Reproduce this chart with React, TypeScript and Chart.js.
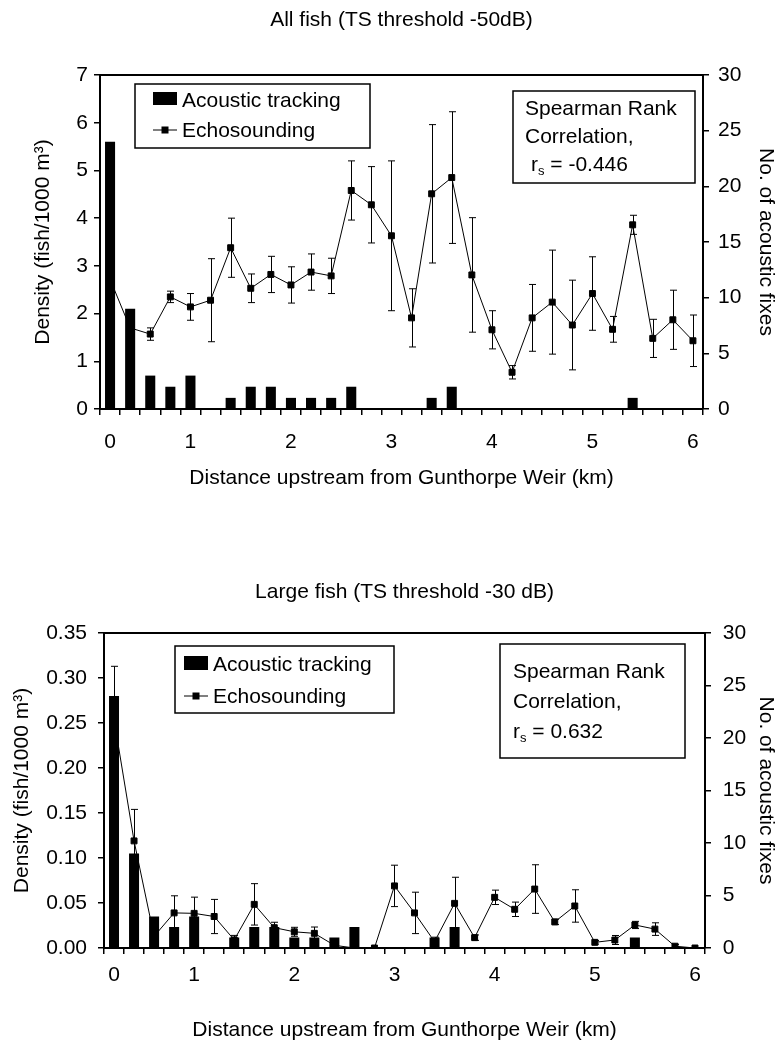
import React, { useEffect, useRef } from 'react';
import { Chart, registerables } from 'chart.js';

Chart.register(...registerables);

// ---------------- data ----------------
const distanceKm = ['0.2', '0.4', '0.6', '0.8', '1.0', '1.2', '1.4', '1.6', '1.8', '2.0', '2.2', '2.4', '2.6', '2.8', '3.0', '3.2', '3.4', '3.6', '3.8', '4.0', '4.2', '4.4', '4.6', '4.8', '5.0', '5.2', '5.4', '5.6', '5.8', '6.0'];
const xTickIndex = [0, 4, 9, 14, 19, 24, 29];
const xTickText = ['0', '1', '2', '3', '4', '5', '6'];

const acousticFixes = [24, 9, 3, 2, 3, 0, 1, 2, 2, 1, 1, 1, 2, 0, 0, 0, 1, 2, 0, 0, 0, 0, 0, 0, 0, 0, 1, 0, 0, 0];

const allFishDensity = [2.72, 1.7, 1.57, 2.35, 2.14, 2.28, 3.38, 2.53, 2.82, 2.6, 2.87, 2.79, 4.58, 4.28, 3.63, 1.91, 4.51, 4.85, 2.81, 1.66, 0.77, 1.91, 2.24, 1.76, 2.42, 1.67, 3.86, 1.48, 1.87, 1.43];
const allFishSE = [0.3, 0.2, 0.13, 0.12, 0.28, 0.87, 0.62, 0.3, 0.38, 0.38, 0.38, 0.37, 0.62, 0.8, 1.57, 0.61, 1.45, 1.38, 1.2, 0.4, 0.14, 0.7, 1.09, 0.94, 0.77, 0.27, 0.2, 0.4, 0.62, 0.54];

const largeFishDensity = [0.254, 0.119, 0.013, 0.039, 0.0385, 0.035, 0.009, 0.0485, 0.0226, 0.018, 0.0163, 0.003, 0.0, 0.0, 0.069, 0.039, 0.007, 0.0496, 0.0115, 0.0563, 0.043, 0.0655, 0.029, 0.0467, 0.0063, 0.0089, 0.0256, 0.021, 0.002, 0.0];
const largeFishSE = [0.059, 0.035, 0.01, 0.019, 0.018, 0.019, 0.005, 0.023, 0.006, 0.005, 0.007, 0.002, 0.0, 0.0, 0.023, 0.023, 0.005, 0.029, 0.003, 0.008, 0.008, 0.027, 0.003, 0.018, 0.002, 0.005, 0.004, 0.007, 0.002, 0.0];

const allFishStat = '-0.446';
const largeFishStat = '0.632';

// ---------------- styling ----------------
const FAMILY = '"Liberation Sans", Arial, Helvetica, sans-serif';
const FS = 21;
Chart.defaults.font.family = FAMILY;
Chart.defaults.font.size = FS;
Chart.defaults.color = '#000';

type Box = { x: number; y: number; w: number; h: number };

interface Params {
  title: string;
  titlePad: { top: number; bottom: number };
  density: number[];
  se: number[];
  yMax: number;
  yStep: number;
  yDecimals: number;
  leftWidth: number;
  rightWidth: number;
  xHeight: number;
  xTickPad: number;
  xTitleBottom: number;
  yTickPad: number;
  yTitleTop: number;
  y2TickPad: number;
  y2TitleTop: number;
  legend: Box & { sw: { x: number; y: number; w: number; h: number }; textX: number; row1: number; row2: number };
  stats: Box & { textX: number; rows: number[]; rsX: number; value: string };
}

function errorBarPlugin(errors: number[]) {
  return {
    id: 'errorBars',
    beforeDatasetsDraw(chart: any) {
      const meta = chart.getDatasetMeta(1);
      const ds = chart.data.datasets[1];
      const ys = chart.scales.y;
      const { ctx, chartArea } = chart;
      ctx.save();
      ctx.beginPath();
      ctx.rect(chartArea.left, chartArea.top, chartArea.right - chartArea.left, chartArea.bottom - chartArea.top);
      ctx.clip();
      ctx.strokeStyle = '#000';
      ctx.lineWidth = 1;
      meta.data.forEach((el: any, i: number) => {
        const e = errors[i];
        if (!e) return;
        const v = ds.data[i] as number;
        const top = ys.getPixelForValue(v + e);
        const bot = ys.getPixelForValue(v - e);
        const x = Math.round(el.x) + 0.5;
        ctx.beginPath();
        ctx.moveTo(x, top);
        ctx.lineTo(x, bot);
        ctx.moveTo(x - 3.5, top);
        ctx.lineTo(x + 3.5, top);
        ctx.moveTo(x - 3.5, bot);
        ctx.lineTo(x + 3.5, bot);
        ctx.stroke();
      });
      ctx.restore();
    },
  };
}

function overlayPlugin(p: Params) {
  return {
    id: 'overlay',
    afterDraw(chart: any) {
      const { ctx, chartArea: a } = chart;
      ctx.save();
      // frame
      ctx.strokeStyle = '#000';
      ctx.lineWidth = 2;
      ctx.beginPath();
      ctx.moveTo(a.left, a.top);
      ctx.lineTo(a.right, a.top);
      ctx.stroke();

      ctx.font = `${FS}px ${FAMILY}`;
      ctx.textBaseline = 'middle';
      ctx.textAlign = 'left';
      ctx.fillStyle = '#000';

      // legend
      const L = p.legend;
      const lx = a.left + L.x;
      const ly = a.top + L.y;
      ctx.fillStyle = '#fff';
      ctx.fillRect(lx, ly, L.w, L.h);
      ctx.lineWidth = 1.5;
      ctx.strokeRect(lx, ly, L.w, L.h);
      ctx.fillStyle = '#000';
      ctx.fillRect(lx + L.sw.x, ly + L.sw.y, L.sw.w, L.sw.h);
      ctx.fillText(chart.data.datasets[0].label, lx + L.textX, ly + L.row1);
      ctx.lineWidth = 1;
      ctx.beginPath();
      ctx.moveTo(lx + L.sw.x, ly + L.row2);
      ctx.lineTo(lx + L.sw.x + L.sw.w, ly + L.row2);
      ctx.stroke();
      const mx = lx + L.sw.x + L.sw.w / 2;
      ctx.fillRect(mx - 3.5, ly + L.row2 - 3.5, 7, 7);
      ctx.fillText(chart.data.datasets[1].label, lx + L.textX, ly + L.row2 + 1);

      // stats box
      const S = p.stats;
      const sx = a.left + S.x;
      const sy = a.top + S.y;
      ctx.fillStyle = '#fff';
      ctx.fillRect(sx, sy, S.w, S.h);
      ctx.lineWidth = 1.5;
      ctx.strokeRect(sx, sy, S.w, S.h);
      ctx.fillStyle = '#000';
      ctx.fillText('Spearman Rank', sx + S.textX, sy + S.rows[0]);
      ctx.fillText('Correlation,', sx + S.textX, sy + S.rows[1]);
      const r3 = sy + S.rows[2];
      let cx = sx + S.rsX;
      ctx.fillText('r', cx, r3);
      cx += ctx.measureText('r').width;
      ctx.font = `${Math.round(FS * 0.62)}px ${FAMILY}`;
      ctx.fillText('s', cx, r3 + 6);
      cx += ctx.measureText('s').width;
      ctx.font = `${FS}px ${FAMILY}`;
      ctx.fillText(' = ' + S.value, cx, r3);
      ctx.restore();
    },
  };
}

function buildConfig(p: Params): any {
  const tickFont = { size: FS };
  return {
    type: 'bar',
    data: {
      labels: distanceKm,
      datasets: [
        {
          type: 'bar',
          label: 'Acoustic tracking',
          data: acousticFixes,
          yAxisID: 'y2',
          backgroundColor: '#000',
          borderWidth: 0,
          barPercentage: 0.5,
          categoryPercentage: 1.0,
          order: 0,
        },
        {
          type: 'line',
          label: 'Echosounding',
          data: p.density,
          yAxisID: 'y',
          borderColor: '#000',
          borderWidth: 1,
          pointStyle: 'rect',
          pointRadius: 4.2,
          pointBackgroundColor: '#000',
          pointBorderColor: '#000',
          pointBorderWidth: 1,
          tension: 0,
          fill: false,
          order: 1,
        },
      ],
    },
    options: {
      responsive: false,
      animation: false,
      events: [],
      layout: { padding: 0 },
      plugins: {
        legend: { display: false },
        tooltip: { enabled: false },
        title: {
          display: true,
          text: p.title,
          fullSize: false,
          color: '#000',
          font: { size: FS, weight: 'normal', lineHeight: 1.2 },
          padding: p.titlePad,
        },
      },
      scales: {
        x: {
          type: 'category',
          offset: true,
          grid: { offset: true, drawOnChartArea: false, drawTicks: true, tickLength: 6, color: '#000', lineWidth: 1.5 },
          border: { display: true, color: '#000', width: 2 },
          ticks: {
            autoSkip: false,
            maxRotation: 0,
            minRotation: 0,
            padding: p.xTickPad,
            font: tickFont,
            color: '#000',
            callback: (_v: any, idx: number) => {
              const k = xTickIndex.indexOf(idx);
              return k >= 0 ? xTickText[k] : '';
            },
          },
          title: {
            display: true,
            text: 'Distance upstream from Gunthorpe Weir (km)',
            color: '#000',
            font: { size: FS, lineHeight: 1.2 },
            padding: { top: 0, bottom: p.xTitleBottom },
          },
          afterFit: (s: any) => {
            s.height = p.xHeight;
          },
        },
        y: {
          type: 'linear',
          position: 'left',
          min: 0,
          max: p.yMax,
          grid: { drawOnChartArea: false, drawTicks: true, tickLength: 6, color: '#000', lineWidth: 1.5 },
          border: { display: true, color: '#000', width: 2 },
          ticks: {
            stepSize: p.yStep,
            padding: p.yTickPad,
            font: tickFont,
            color: '#000',
            callback: (v: number) => v.toFixed(p.yDecimals),
          },
          title: {
            display: true,
            text: 'Density (fish/1000 m³)',
            color: '#000',
            font: { size: FS, lineHeight: 1.2 },
            padding: { top: p.yTitleTop, bottom: 0 },
          },
          afterFit: (s: any) => {
            s.width = p.leftWidth;
          },
        },
        y2: {
          type: 'linear',
          position: 'right',
          min: 0,
          max: 30,
          grid: { drawOnChartArea: false, drawTicks: true, tickLength: 6, color: '#000', lineWidth: 1.5 },
          border: { display: true, color: '#000', width: 2 },
          ticks: { stepSize: 5, padding: p.y2TickPad, font: tickFont, color: '#000' },
          title: {
            display: true,
            text: 'No. of acoustic fixes',
            color: '#000',
            font: { size: FS, lineHeight: 1.2 },
            padding: { top: p.y2TitleTop, bottom: 0 },
          },
          afterFit: (s: any) => {
            s.width = p.rightWidth;
          },
        },
      },
    },
    plugins: [errorBarPlugin(p.se), overlayPlugin(p)],
  };
}

const topParams: Params = {
  title: 'All fish (TS threshold -50dB)',
  titlePad: { top: 8, bottom: 41.8 },
  density: allFishDensity,
  se: allFishSE,
  yMax: 7,
  yStep: 1,
  yDecimals: 0,
  leftWidth: 100,
  rightWidth: 76,
  xHeight: 116,
  xTickPad: 14.4,
  xTitleBottom: 34.4,
  yTickPad: 6,
  yTitleTop: 31,
  y2TickPad: 9,
  y2TitleTop: 1,
  legend: { x: 35, y: 9, w: 235, h: 64, sw: { x: 18, y: 8, w: 24, h: 13 }, textX: 47, row1: 17, row2: 46 },
  stats: { x: 413, y: 16, w: 182, h: 92, textX: 12, rows: [18, 46, 74], rsX: 18, value: allFishStat },
};

const bottomParams: Params = {
  title: 'Large fish (TS threshold -30 dB)',
  titlePad: { top: 54.4, bottom: 28.4 },
  density: largeFishDensity,
  se: largeFishSE,
  yMax: 0.35,
  yStep: 0.05,
  yDecimals: 2,
  leftWidth: 104,
  rightWidth: 74,
  xHeight: 97,
  xTickPad: 8.4,
  xTitleBottom: 2.4,
  yTickPad: 11,
  yTitleTop: 9.4,
  y2TickPad: 11.7,
  y2TitleTop: 0.4,
  legend: { x: 71, y: 13, w: 219, h: 67, sw: { x: 9, y: 10, w: 24, h: 14 }, textX: 38, row1: 19, row2: 50 },
  stats: { x: 396, y: 11, w: 185, h: 114, textX: 13, rows: [28, 58, 88], rsX: 13, value: largeFishStat },
};

function FishChart({ params, width, height }: { params: Params; width: number; height: number }) {
  const ref = useRef<HTMLCanvasElement>(null);
  useEffect(() => {
    const chart = new Chart(ref.current as HTMLCanvasElement, buildConfig(params));
    return () => chart.destroy();
  }, [params]);
  return <canvas ref={ref} width={width} height={height} style={{ display: 'block', width, height }} />;
}

export default function App() {
  return (
    <div style={{ position: 'absolute', left: 0, top: 0, width: 779, height: 1045, background: '#fff' }}>
      <div style={{ position: 'absolute', left: 0, top: 0 }}>
        <FishChart params={topParams} width={779} height={525} />
      </div>
      <div style={{ position: 'absolute', left: 0, top: 525 }}>
        <FishChart params={bottomParams} width={779} height={520} />
      </div>
    </div>
  );
}
